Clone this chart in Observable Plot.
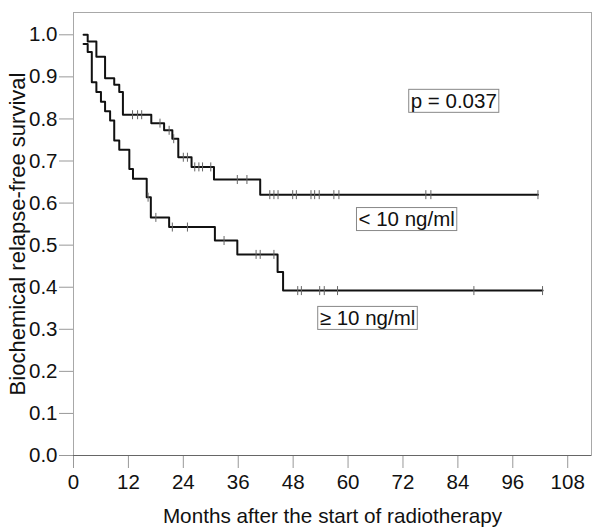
<!DOCTYPE html>
<html><head><meta charset="utf-8">
<script src="https://cdn.jsdelivr.net/npm/d3@7"></script>
<script src="https://cdn.jsdelivr.net/npm/@observablehq/plot@0.6"></script>
<style>body{margin:0;background:#fff}</style>
</head><body><div id="chart"></div>
<script>
// < 10 ng/ml group (upper curve)
const lowTimes = [2.2, 3.1, 5.0, 6.9, 8.9, 10.0, 10.8, 17.0, 19.8, 21.6, 22.9, 25.8, 30.7, 40.8, 101.5];
const lowSurv  = [1.0, 0.984, 0.948, 0.897, 0.881, 0.864, 0.810, 0.790, 0.773, 0.753, 0.709, 0.686, 0.656, 0.620, 0.620];
const lowCensor = [12.9, 14.0, 14.9, 18.9, 20.9, 21.9, 24.0, 24.9, 26.5, 27.4, 28.2, 30.0, 35.8, 37.9, 42.9, 43.8, 44.7, 47.9, 48.7, 51.9, 52.7, 53.7, 56.9, 58.0, 77.0, 78.1, 101.5];
// >= 10 ng/ml group (lower curve)
const highTimes = [2.2, 3.1, 4.0, 5.0, 6.0, 6.9, 8.0, 8.9, 10.0, 12.2, 13.0, 16.0, 16.9, 20.9, 30.9, 35.8, 44.6, 45.8, 102.5];
const highSurv  = [0.978, 0.959, 0.887, 0.864, 0.841, 0.818, 0.796, 0.749, 0.727, 0.681, 0.658, 0.614, 0.566, 0.543, 0.511, 0.478, 0.436, 0.392, 0.392];
const highCensor = [16.3, 18.0, 21.6, 24.9, 32.9, 39.9, 40.8, 43.8, 49.0, 49.8, 53.8, 54.8, 57.7, 87.5, 102.5];

const xTicks = [0, 12, 24, 36, 48, 60, 72, 84, 96, 108];
const yTicks = [0, 0.1, 0.2, 0.3, 0.4, 0.5, 0.6, 0.7, 0.8, 0.9, 1.0];
const labelTexts = ["p = 0.037", "< 10 ng/ml", "\u2265 10 ng/ml"];
const xTitle = "Months after the start of radiotherapy";
const yTitle = "Biochemical relapse-free survival";

const stepData = (times, surv) => times.map((t, i) => ({t, s: surv[i]}));
function survAt(times, surv, t) {
  let v = surv[0];
  for (let i = 0; i < times.length; i++) if (times[i] <= t + 1e-9) v = surv[i];
  return v;
}
const lowLine = stepData(lowTimes, lowSurv);
const highLine = stepData(highTimes, highSurv);
const censors = [
  ...lowCensor.map(t => ({t, s: survAt(lowTimes, lowSurv, t)})),
  ...highCensor.map(t => ({t, s: survAt(highTimes, highSurv, t)}))
];
const vtick = {draw(ctx, size) { const h = Math.sqrt(size / Math.PI); ctx.moveTo(0, -h); ctx.lineTo(0, h); }};

const chart = Plot.plot({
  width: 600, height: 528,
  marginLeft: 73, marginRight: 9, marginTop: 12, marginBottom: 73,
  style: {fontFamily: "'Liberation Sans', Arial, sans-serif", fontSize: "20.5px", color: "#111", background: "#fff"},
  x: {domain: [0, 113.2]},
  y: {domain: [0, 1.053]},
  marks: [
    Plot.frame({stroke: "#a8a8a8"}),
    Plot.axisX({ticks: xTicks, tickSize: 13, tickPadding: 6, stroke: "#999", label: null}),
    Plot.axisY({ticks: yTicks, tickFormat: d => d.toFixed(1), tickSize: 14, tickPadding: 2, stroke: "#999", label: null}),
    Plot.text([xTitle], {frameAnchor: "bottom", dy: 61, lineAnchor: "middle", textAnchor: "middle", text: d => d, fontSize: 20.7, fill: "#111"}),
    Plot.text([yTitle], {frameAnchor: "left", dx: -56, rotate: -90, lineAnchor: "middle", textAnchor: "middle", text: d => d, fontSize: 22, fill: "#111"}),
    Plot.ruleY([0], {stroke: "#666"}),
    Plot.line(lowLine, {x: "t", y: "s", curve: "step-after", stroke: "#111", strokeWidth: 2}),
    Plot.line(highLine, {x: "t", y: "s", curve: "step-after", stroke: "#111", strokeWidth: 2}),
    Plot.dot(censors, {x: "t", y: "s", symbol: vtick, r: 4.5, stroke: "#666", strokeWidth: 1, fill: "none"}),
    Plot.text([labelTexts[0]], {x: 83.1, y: 0.842, text: d => d, fill: "#111"}),
    Plot.text([labelTexts[1]], {x: 72.8, y: 0.561, text: d => d, fill: "#111"}),
    Plot.text([labelTexts[2]], {x: 64.25, y: 0.326, text: d => d, fill: "#111"})
  ]
});
document.getElementById("chart").appendChild(chart);
// draw boxes around the annotation texts
chart.querySelectorAll('g[aria-label="text"] text').forEach(t => {
  if (!labelTexts.includes(t.textContent)) return;
  const b = t.getBBox();
  const r = document.createElementNS("http://www.w3.org/2000/svg", "rect");
  r.setAttribute("x", b.x - 2); r.setAttribute("y", b.y + 0.5);
  r.setAttribute("width", b.width + 4); r.setAttribute("height", b.height);
  r.setAttribute("fill", "none"); r.setAttribute("stroke", "#888"); r.setAttribute("stroke-width", 1);
  const tr = t.getAttribute("transform");
  if (tr) r.setAttribute("transform", tr);
  t.parentNode.insertBefore(r, t);
});
</script>
</body></html>
